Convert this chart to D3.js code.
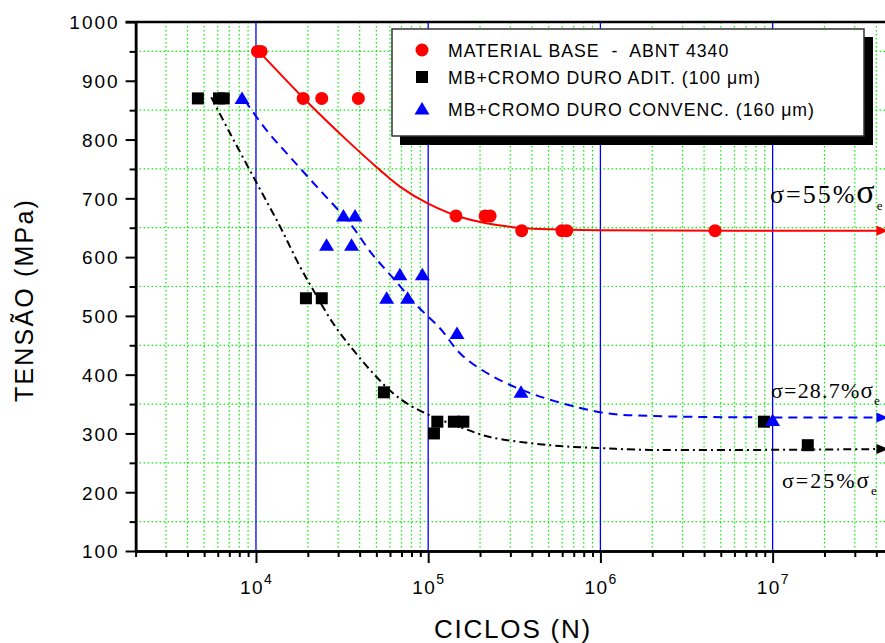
<!DOCTYPE html>
<html>
<head>
<meta charset="utf-8">
<script src="https://cdn.jsdelivr.net/npm/d3@7"></script>
<style>
  body { margin: 0; background: #fff; }
  svg text { font-family: "Liberation Sans", Arial, sans-serif; fill: #000; }
  .serif { font-family: "Liberation Serif", "Times New Roman", serif; }
</style>
</head>
<body>
<div id="chart"></div>
<script>
// ---- data (N = cycles, S = stress MPa) ----
const baseN = [1.02e4, 1.07e4, 1.88e4, 2.41e4, 3.93e4, 1.45e5, 2.14e5, 2.29e5, 3.49e5, 5.98e5, 6.37e5, 4.63e6];
const baseS = [950, 950, 870, 870, 870, 670, 670, 670, 645, 645, 645, 645];

const aditN = [4.6e3, 6.1e3, 6.5e3, 1.95e4, 2.41e4, 5.53e4, 1.08e5, 1.13e5, 1.41e5, 1.6e5, 8.9e6, 1.6e7];
const aditS = [870, 870, 870, 530, 530, 370, 300, 320, 320, 320, 320, 280];

const convN = [8.3e3, 2.57e4, 3.22e4, 3.59e4, 3.76e4, 5.74e4, 6.85e4, 7.6e4, 9.25e4, 1.47e5, 3.46e5, 1.0e7];
const convS = [870, 620, 670, 620, 670, 530, 570, 530, 570, 470, 370, 322];

// fitted curves (traced points)
const baseFitN = [1.04e4, 2.0e4, 3.37e4, 5.25e4, 6.85e4, 1.0e5, 1.59e5, 3.1e5, 6.07e5, 1.0e6, 4.4e7];
const baseFitS = [950, 863, 799, 748, 720, 691, 667, 651, 647, 645.5, 645];

const aditFitN = [5.5e3, 7.06e3, 1.01e4, 1.38e4, 1.8e4, 2.15e4, 2.81e4, 3.67e4, 4.8e4, 6.27e4, 7.83e4, 1.02e5, 1.53e5, 2.28e5, 5.1e5, 1.0e6, 1.94e6, 4.4e7];
const aditFitS = [872, 811, 726, 652, 584, 544, 487, 442, 402, 368, 348, 331, 311, 294, 280, 275, 272, 273.5];

const convFitN = [8.6e3, 1.15e4, 1.57e4, 2.35e4, 3.52e4, 4.7e4, 6.27e4, 8.57e4, 1.17e5, 1.6e5, 3.12e5, 1.0e6, 1.94e6, 6.47e6, 4.4e7];
const convFitS = [867, 816, 771, 714, 657, 606, 564, 518, 479, 431, 380, 336, 330, 327.5, 327];

// run-out arrows at the right edge
const runoutN = 4.4e7;
const runoutS = [645, 327, 273.5];

const yMajor = [100, 200, 300, 400, 500, 600, 700, 800, 900, 1000];
const yMinor = [150, 250, 350, 450, 550, 650, 750, 850, 950];
const xMajor = [1e4, 1e5, 1e6, 1e7];
const xExp = ["4", "5", "6", "7"];
const legendLabels = ["MATERIAL BASE  -  ABNT 4340", "MB+CROMO DURO ADIT. (100 \u03bcm)", "MB+CROMO DURO CONVENC. (160 \u03bcm)"];

// ---- layout ----
const W = 885, H = 643;
const margin = {left: 135.6, top: 22, bottom: 551};

const x = d3.scaleLog().domain([2000, 5e7]).range([margin.left, 893]);
const y = d3.scaleLinear().domain([100, 1000]).range([margin.bottom, margin.top]);

const xMinor = [];
[1e3, 1e4, 1e5, 1e6, 1e7].forEach(function (d) {
    for (let k = 2; k <= 9; k++) {
        const v = d * k;
        if (v > 2000 && v < 5e7) xMinor.push(v);
    }
});

const svg = d3.select("#chart").append("svg")
    .attr("width", W)
    .attr("height", H);
svg.append("rect").attr("width", W).attr("height", H).attr("fill", "#fff");

// grid
const grid = svg.append("g");
grid.selectAll(".gx").data(xMinor).enter().append("line")
    .attr("x1", d => x(d)).attr("x2", d => x(d))
    .attr("y1", margin.top).attr("y2", margin.bottom)
    .attr("stroke", "#00ee00").attr("stroke-width", 1.2).attr("stroke-dasharray", "1.5,2.5");
grid.selectAll(".gy").data(yMinor).enter().append("line")
    .attr("x1", margin.left).attr("x2", W)
    .attr("y1", d => y(d)).attr("y2", d => y(d))
    .attr("stroke", "#00ee00").attr("stroke-width", 1.2).attr("stroke-dasharray", "1.5,2.5");
grid.selectAll(".bx").data(xMajor).enter().append("line")
    .attr("x1", d => x(d)).attr("x2", d => x(d))
    .attr("y1", margin.top).attr("y2", margin.bottom)
    .attr("stroke", "#0000ff").attr("stroke-width", 1.3);

// fitted curves
function toPts(ns, ss) { return ns.map((n, i) => [x(n), y(ss[i])]); }
const line = d3.line().curve(d3.curveCatmullRom.alpha(0.5));

svg.append("path").attr("d", line(toPts(baseFitN, baseFitS)))
    .attr("fill", "none").attr("stroke", "#ff0000").attr("stroke-width", 2);
svg.append("path").attr("d", line(toPts(convFitN, convFitS)))
    .attr("fill", "none").attr("stroke", "#0000ff").attr("stroke-width", 2)
    .attr("stroke-dasharray", "9,6");
svg.append("path").attr("d", line(toPts(aditFitN, aditFitS)))
    .attr("fill", "none").attr("stroke", "#000").attr("stroke-width", 2)
    .attr("stroke-dasharray", "8,4,2,4");

// markers
const triPath = "M0,-7L7.5,5.5L-7.5,5.5Z";
svg.selectAll(".mb").data(baseN).enter().append("circle")
    .attr("cx", d => x(d)).attr("cy", (d, i) => y(baseS[i])).attr("r", 6.5)
    .attr("fill", "#ff0000");
svg.selectAll(".ma").data(aditN).enter().append("rect")
    .attr("x", d => x(d) - 6).attr("y", (d, i) => y(aditS[i]) - 6)
    .attr("width", 12).attr("height", 12).attr("fill", "#000");
svg.selectAll(".mc").data(convN).enter().append("path")
    .attr("d", triPath)
    .attr("transform", (d, i) => "translate(" + x(d) + "," + y(convS[i]) + ")")
    .attr("fill", "#0000ff");

const arrowColors = ["#ff0000", "#0000ff", "#000"];
svg.selectAll(".ro").data(runoutS).enter().append("path")
    .attr("d", "M-7,-5L5,0L-7,5Z")
    .attr("transform", d => "translate(" + x(runoutN) + "," + y(d) + ")")
    .attr("fill", (d, i) => arrowColors[i]);

// axes
const yAxis = svg.append("g").attr("transform", "translate(" + margin.left + ",0)")
    .call(d3.axisLeft(y).tickValues(yMajor).tickSize(10).tickSizeOuter(0).tickPadding(6).tickFormat(d3.format("d")));
svg.append("g").attr("transform", "translate(" + margin.left + ",0)")
    .call(d3.axisLeft(y).tickValues(yMinor).tickSize(6).tickSizeOuter(0).tickFormat(""));
yAxis.selectAll("text")
    .style("font-size", "19px").style("letter-spacing", "2px")
    .style("font-family", "'Liberation Sans', Arial, sans-serif")
    .attr("dy", "0.36em");

svg.append("g").attr("transform", "translate(0," + margin.bottom + ")")
    .call(d3.axisBottom(x).tickValues(xMajor).tickSize(12).tickSizeOuter(0).tickFormat(""));
svg.append("g").attr("transform", "translate(0," + margin.bottom + ")")
    .call(d3.axisBottom(x).tickValues([2000].concat(xMinor)).tickSize(6).tickSizeOuter(0).tickFormat(""));

svg.selectAll(".domain").attr("stroke", "#000").attr("stroke-width", 2.5);
svg.selectAll(".tick line").attr("stroke", "#000").attr("stroke-width", 2);

// x tick labels with superscripts
const xl = svg.selectAll(".xl").data(xMajor).enter().append("text")
    .attr("x", d => x(d) - 16).attr("y", 594)
    .style("font-size", "19px").style("letter-spacing", "1.5px");
xl.append("tspan").text("10");
xl.append("tspan").attr("dy", -10).style("font-size", "14px").text((d, i) => xExp[i]);

// top frame
svg.append("line").attr("x1", margin.left - 10).attr("x2", W).attr("y1", margin.top).attr("y2", margin.top)
    .attr("stroke", "#000").attr("stroke-width", 2.5);

// axis titles
svg.append("text").attr("x", 513).attr("y", 638).attr("text-anchor", "middle")
    .style("font-size", "26px").style("letter-spacing", "1.8px").text("CICLOS (N)");
svg.append("text").attr("transform", "translate(33,300) rotate(-90)").attr("text-anchor", "middle")
    .style("font-size", "25px").style("letter-spacing", "2.2px").text("TENS\u00c3O (MPa)");

// annotations
function sigmaLabel(xp, yp, pct, fs, fsSig, ls) {
    const t = svg.append("text").attr("class", "serif").attr("x", xp).attr("y", yp)
        .style("font-size", fs + "px").style("letter-spacing", ls + "px");
    t.append("tspan").text("\u03c3=" + pct + "%");
    t.append("tspan").style("font-size", fsSig + "px").text("\u03c3");
    t.append("tspan").attr("dy", 7).style("font-size", "13px").style("letter-spacing", "0px").text("e");
}
sigmaLabel(770, 203, "55", 26, 34, 2);
sigmaLabel(771, 398, "28.7", 22, 23, 1.2);
sigmaLabel(782, 488, "25", 22, 23, 2);

// legend
const lg = svg.append("g");
lg.append("rect").attr("x", 400).attr("y", 37).attr("width", 473).attr("height", 108).attr("fill", "#000");
lg.append("rect").attr("x", 392).attr("y", 29).attr("width", 472).attr("height", 107)
    .attr("fill", "#fff").attr("stroke", "#333").attr("stroke-width", 1.5);
const rowsY = [50, 77, 109];
lg.append("circle").attr("cx", 422).attr("cy", rowsY[0]).attr("r", 6.5).attr("fill", "#ff0000");
lg.append("rect").attr("x", 416).attr("y", rowsY[1] - 6).attr("width", 12).attr("height", 12).attr("fill", "#000");
lg.append("path").attr("d", triPath).attr("transform", "translate(422," + rowsY[2] + ")").attr("fill", "#0000ff");
lg.selectAll(".lt").data(legendLabels).enter().append("text")
    .attr("x", 448).attr("y", (d, i) => rowsY[i] + 6.5)
    .style("font-size", "17.7px").style("letter-spacing", "1px")
    .style("white-space", "pre")
    .text(d => d);
</script>
</body>
</html>
